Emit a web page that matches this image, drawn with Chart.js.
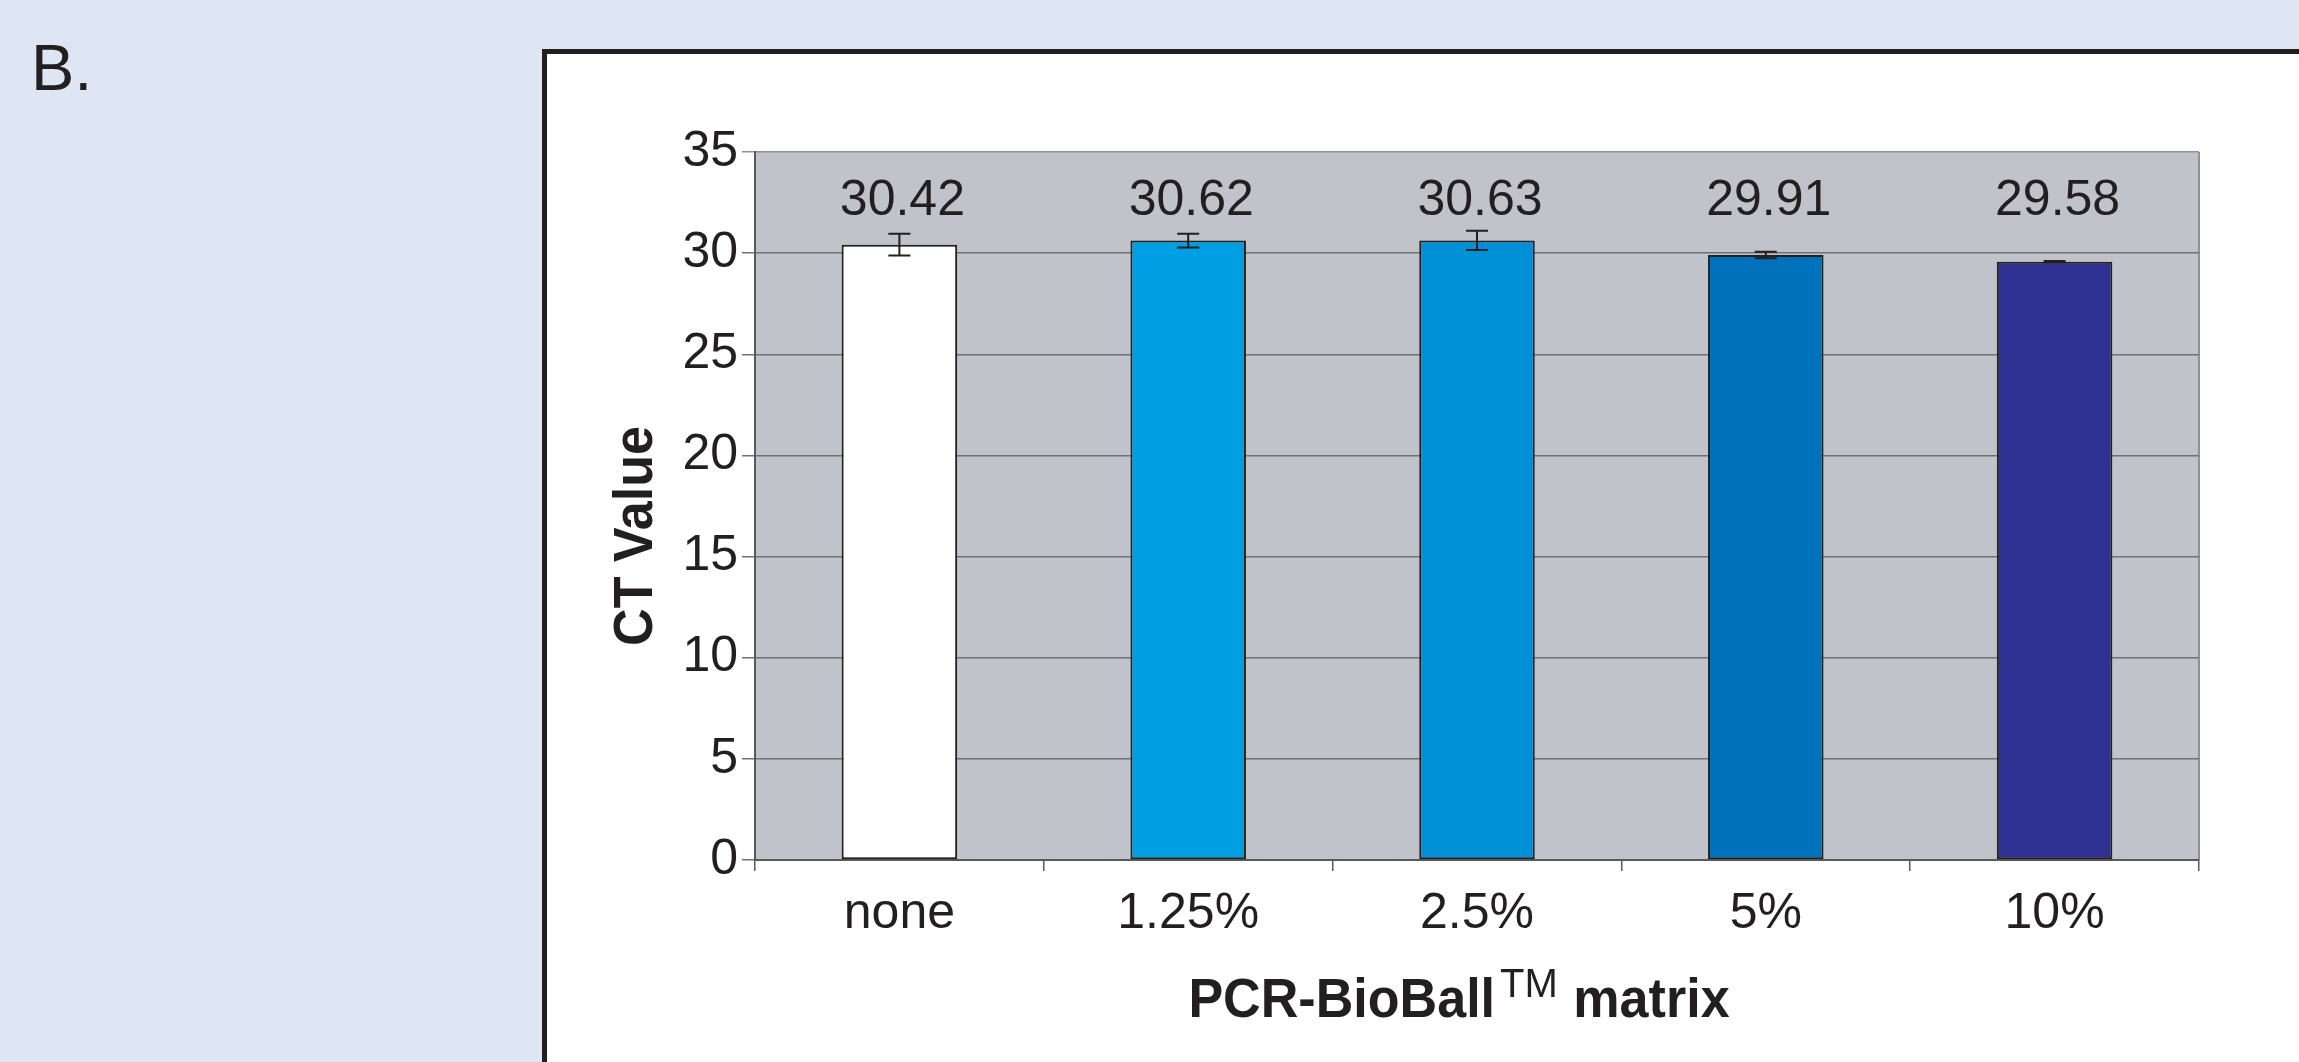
<!DOCTYPE html>
<html>
<head>
<meta charset="utf-8">
<script src="https://cdn.jsdelivr.net/npm/chart.js@4/dist/chart.umd.min.js"></script>
<style>
  html, body { margin: 0; padding: 0; background: #dde6f2; }
  canvas { display: block; }
</style>
</head>
<body>
<canvas id="myChart" width="2299" height="1062"></canvas>
<script>
// values
const categories = ['none', '1.25%', '2.5%', '5%', '10%'];
const ctValues = [30.42, 30.62, 30.63, 29.91, 29.58];
const ctErrors = [0.54, 0.34, 0.48, 0.16, 0.03];
const yTicks = [0, 5, 10, 15, 20, 25, 30, 35];
const barColors = ['#ffffff', '#009fe3', '#0090d7', '#0072bb', '#2e3192'];

const ink = '#231f20';
const fontFamily = '"Liberation Sans", Arial, Helvetica, sans-serif';
const labelLevel = 31.88; // data labels sit on one line above the bars

// background, white frame and grey plot area
const backdrop = {
    id: 'backdrop',
    beforeDraw(chart) {
        const c = chart.ctx;
        const a = chart.chartArea;
        c.save();
        c.fillStyle = '#dde6f2';
        c.fillRect(0, 0, chart.width, chart.height);
        c.fillStyle = '#ffffff';
        c.fillRect(542, 49, chart.width, chart.height);
        c.strokeStyle = ink;
        c.lineWidth = 5;
        c.strokeRect(544.5, 51.5, chart.width, chart.height);
        c.fillStyle = '#c0c3ca';
        c.fillRect(a.left, a.top, a.right - a.left, a.bottom - a.top);
        c.strokeStyle = '#8b9299';
        c.lineWidth = 2;
        c.beginPath();
        c.moveTo(a.right, a.top);
        c.lineTo(a.right, a.bottom);
        c.stroke();
        c.restore();
    }
};

// error bars and value labels
const extras = {
    id: 'extras',
    afterDatasetsDraw(chart) {
        const c = chart.ctx;
        const y = chart.scales.y;
        const bars = chart.getDatasetMeta(0).data;
        c.save();
        c.strokeStyle = ink;
        c.lineWidth = 2;
        bars.forEach((bar, i) => {
            const top = y.getPixelForValue(ctValues[i] + ctErrors[i]);
            const bot = y.getPixelForValue(ctValues[i] - ctErrors[i]);
            c.beginPath();
            c.moveTo(bar.x, top); c.lineTo(bar.x, bot);
            c.moveTo(bar.x - 11, top); c.lineTo(bar.x + 11, top);
            c.moveTo(bar.x - 11, bot); c.lineTo(bar.x + 11, bot);
            c.stroke();
        });
        c.fillStyle = ink;
        c.font = '50px ' + fontFamily;
        c.textAlign = 'center';
        c.textBaseline = 'alphabetic';
        bars.forEach((bar, i) => {
            c.fillText(ctValues[i].toFixed(2), bar.x + 3, y.getPixelForValue(labelLevel));
        });
        c.restore();
    },
    afterDraw(chart) {
        const c = chart.ctx;
        c.save();
        c.fillStyle = ink;
        c.textBaseline = 'alphabetic';

        // panel letter
        c.font = '65px ' + fontFamily;
        c.textAlign = 'left';
        c.fillText('B.', 31, 90);

        // y axis title, rotated
        c.save();
        c.translate(652, 536);
        c.rotate(-Math.PI / 2);
        c.scale(0.93, 1);
        c.font = 'bold 56px ' + fontFamily;
        c.textAlign = 'center';
        c.fillText('CT Value', 0, 0);
        c.restore();

        // x axis title with superscript TM
        const partA = 'PCR-BioBall', partB = 'TM', partC = ' matrix';
        const bold = 'bold 56px ' + fontFamily, small = '40px ' + fontFamily;
        c.font = bold;
        const wA = c.measureText(partA).width * 0.93;
        const wC = c.measureText(partC).width * 0.93;
        c.font = small;
        const wB = c.measureText(partB).width + 6;
        let x = 1459 - (wA + wB + wC) / 2;
        c.save();
        c.translate(x, 1017);
        c.scale(0.93, 1);
        c.font = bold;
        c.textAlign = 'left';
        c.fillText(partA, 0, 0);
        c.restore();
        x += wA + 5;
        c.font = small;
        c.textAlign = 'left';
        c.fillText(partB, x, 997);
        x += wB - 5;
        c.save();
        c.translate(x, 1017);
        c.scale(0.93, 1);
        c.font = bold;
        c.fillText(partC, 0, 0);
        c.restore();

        c.restore();
    }
};

const ctx = document.getElementById('myChart').getContext('2d');

const myChart = new Chart(ctx, {
    type: 'bar',
    data: {
        labels: categories,
        datasets: [
            {
                label: 'CT Value',
                data: ctValues,
                backgroundColor: barColors,
                borderColor: ink,
                borderWidth: 2,
                borderSkipped: false,
                categoryPercentage: 1,
                barPercentage: 0.4
            }
        ]
    },
    options: {
        responsive: false,
        animation: false,
        devicePixelRatio: 1,
        layout: {
            padding: { left: 0, top: 152, right: 100, bottom: 0 }
        },
        plugins: {
            legend: { display: false },
            tooltip: { enabled: false }
        },
        scales: {
            x: {
                offset: true,
                afterFit: (scale) => { scale.height = 202; },
                grid: {
                    offset: true,
                    drawOnChartArea: false,
                    drawTicks: true,
                    tickLength: 11,
                    color: '#58595b',
                    lineWidth: 1.5
                },
                border: { display: true, color: '#58595b', width: 2 },
                ticks: {
                    color: ink,
                    padding: 13,
                    font: { size: 50, family: fontFamily }
                }
            },
            y: {
                min: 0,
                max: 35,
                afterFit: (scale) => { scale.width = 755; },
                afterBuildTicks: (scale) => { scale.ticks = yTicks.map(v => ({ value: v })); },
                grid: {
                    drawTicks: true,
                    tickLength: 13,
                    lineWidth: 1.5,
                    color: (c) => (c.tick && c.tick.value === 35 ? '#8b9299' : '#6f7175')
                },
                border: { display: true, color: '#58595b', width: 2 },
                ticks: {
                    color: ink,
                    padding: 4,
                    font: { size: 50, family: fontFamily }
                }
            }
        }
    },
    plugins: [backdrop, extras]
});
</script>
</body>
</html>
